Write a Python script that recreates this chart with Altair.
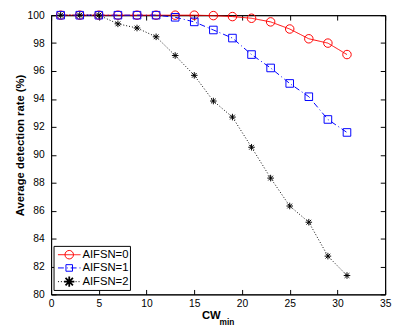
import altair as alt
import pandas as pd

series = ["AIFSN=0", "AIFSN=1", "AIFSN=2"]
colors = ["#ff0000", "#0000ff", "#000000"]
cw = [1, 3, 5, 7, 9, 11, 13, 15, 17, 19, 21, 23, 25, 27, 29, 31]
aifsn0 = [100, 100, 100, 100, 100, 100, 100, 100, 99.97, 99.9, 99.78, 99.52, 99.01, 98.31, 98.0, 97.18]
aifsn1 = [100, 100, 100, 100, 100, 100, 99.85, 99.52, 98.94, 98.36, 97.18, 96.22, 95.11, 94.16, 92.53, 91.6]
aifsn2 = [100, 100, 100, 99.38, 99.08, 98.45, 97.11, 95.69, 93.85, 92.7, 90.54, 88.33, 86.33, 85.17, 82.74, 81.35]
x_ticks = [0, 5, 10, 15, 20, 25, 30, 35]
y_ticks = [80, 82, 84, 86, 88, 90, 92, 94, 96, 98, 100]

rows = []
for name, vals in zip(series, [aifsn0, aifsn1, aifsn2]):
    for c, v in zip(cw, vals):
        rows.append({"cw": c, "rate": v, "series": name})
df = pd.DataFrame(rows)
one = pd.DataFrame({"k": [0]})

FONT = "Liberation Sans"
STAR = "M-1,0L1,0M0,-1L0,1M-0.72,-0.72L0.72,0.72M-0.72,0.72L0.72,-0.72"
shapes = ["circle", "square", STAR]
sizes = [75, 45, 110]
dashes = [[1, 0], [6, 3, 1, 3], [1, 2]]
widths = [1, 1, 1.8]

xs = alt.Scale(domain=[0, 35], nice=False, zero=False)
ys = alt.Scale(domain=[80, 100], nice=False, zero=False)

color = alt.Color("series:N", scale=alt.Scale(domain=series, range=colors), legend=None)

x_axis = alt.Axis(values=x_ticks, title=None, grid=False, tickSize=alt.ExprRef(expr="-5"),
                  labelPadding=9, labelFontSize=10.5, labelFont=FONT, labelColor="#000",
                  tickColor="#000", domainColor="#000", labelFlush=False, labelOverlap=False)
y_axis = alt.Axis(values=y_ticks, title=None, grid=False, tickSize=alt.ExprRef(expr="-5"),
                  labelPadding=12, labelFontSize=10.5, labelFont=FONT, labelColor="#000",
                  tickColor="#000", domainColor="#000", labelFlush=False, labelOverlap=False)

lines = alt.Chart(df).mark_line(strokeWidth=1).encode(
    x=alt.X("cw:Q", scale=xs, axis=x_axis),
    y=alt.Y("rate:Q", scale=ys, axis=y_axis),
    color=color,
    strokeDash=alt.StrokeDash("series:N", scale=alt.Scale(domain=series, range=dashes), legend=None),
)
points = alt.Chart(df).mark_point(filled=False, opacity=1).encode(
    x=alt.X("cw:Q", scale=xs, axis=x_axis),
    y=alt.Y("rate:Q", scale=ys, axis=y_axis),
    color=color,
    shape=alt.Shape("series:N", scale=alt.Scale(domain=series, range=shapes), legend=None),
    size=alt.Size("series:N", scale=alt.Scale(domain=series, range=sizes), legend=None),
    strokeWidth=alt.StrokeWidth("series:N", scale=alt.Scale(domain=series, range=widths), legend=None),
)
main = alt.layer(lines, points)

frame = alt.Chart(df).mark_point(opacity=0).encode(
    x=alt.X("cw:Q", scale=xs, axis=alt.Axis(orient="top", values=x_ticks, labels=False, title=None,
                                            grid=False, tickSize=alt.ExprRef(expr="-5"),
                                            tickColor="#000", domainColor="#000")),
    y=alt.Y("rate:Q", scale=ys, axis=alt.Axis(orient="right", values=y_ticks, labels=False, title=None,
                                              grid=False, tickSize=alt.ExprRef(expr="-5"),
                                              tickColor="#000", domainColor="#000")),
)

layers = [main, frame]

# legend box
layers.append(alt.Chart(one).mark_rect(fill="white", stroke="black", strokeWidth=1).encode(
    x=alt.value(3), x2=alt.value(81), y=alt.value(236), y2=alt.value(281)))
leg_y = [244.5, 258, 272]
for i, name in enumerate(series):
    layers.append(alt.Chart(one).mark_rule(color=colors[i], strokeDash=dashes[i], strokeWidth=1).encode(
        x=alt.value(7), x2=alt.value(30), y=alt.value(leg_y[i])))
    layers.append(alt.Chart(one).mark_point(shape=shapes[i], size=sizes[i], color=colors[i], filled=False,
                                            strokeWidth=widths[i], opacity=1).encode(
        x=alt.value(18.5), y=alt.value(leg_y[i])))
    layers.append(alt.Chart(one).mark_text(align="left", baseline="middle", fontSize=11.5, font=FONT,
                                           color="#000").encode(
        x=alt.value(32), y=alt.value(leg_y[i]), text=alt.value(name)))

# axis titles
layers.append(alt.Chart(one).mark_text(align="center", baseline="middle", angle=270, fontSize=11.5,
                                       fontWeight="bold", font=FONT, color="#000").encode(
    x=alt.value(-31), y=alt.value(133), text=alt.value("Average detection rate (%)")))
layers.append(alt.Chart(one).mark_text(align="left", baseline="middle", fontSize=11.5, fontWeight="bold",
                                       font=FONT, color="#000").encode(
    x=alt.value(154), y=alt.value(307), text=alt.value("CW")))
layers.append(alt.Chart(one).mark_text(align="left", baseline="middle", fontSize=8.5, fontWeight="bold",
                                       font=FONT, color="#000").encode(
    x=alt.value(172), y=alt.value(313), text=alt.value("min")))

chart = alt.layer(*layers).resolve_scale(x="independent", y="independent").properties(
    width=341, height=285,
    autosize=alt.AutoSizeParams(type="none"),
    padding={"left": 44, "top": 4, "right": 8, "bottom": 32},
).configure_view(stroke="black", strokeWidth=1).configure_axis(domainWidth=1, tickWidth=1)

chart.save("out.html", embed_options={"renderer": "svg", "actions": False})
